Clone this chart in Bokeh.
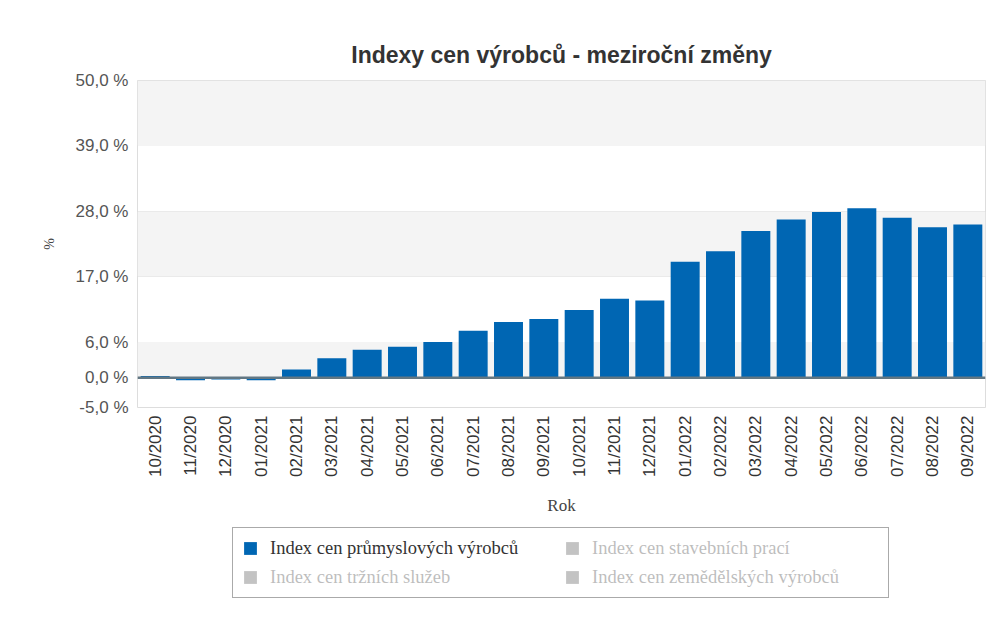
from bokeh.plotting import figure
from bokeh.layouts import column
from bokeh.models import (FixedTicker, CustomJSTickFormatter, BoxAnnotation, Span,
                          Legend, LegendItem, ColumnDataSource, Range1d)
from bokeh.embed import file_html
from bokeh.resources import INLINE
import math

months = ["10/2020", "11/2020", "12/2020", "01/2021", "02/2021", "03/2021", "04/2021",
          "05/2021", "06/2021", "07/2021", "08/2021", "09/2021", "10/2021", "11/2021",
          "12/2021", "01/2022", "02/2022", "03/2022", "04/2022", "05/2022", "06/2022",
          "07/2022", "08/2022", "09/2022"]
prumysl = [0.3, -0.4, -0.3, -0.4, 1.4, 3.3, 4.7, 5.2, 6.0, 7.9, 9.4, 9.9,
           11.4, 13.3, 13.0, 19.5, 21.3, 24.7, 26.6, 27.9, 28.5, 26.9, 25.3, 25.8]
y_ticks = [-5, 0, 6, 17, 28, 39, 50]
series_names = ["Index cen průmyslových výrobců", "Index cen stavebních prací",
                "Index cen tržních služeb", "Index cen zemědělských výrobců"]
series_colors = ["#0066b3", "#444444", "#444444", "#444444"]
series_active = [True, False, False, False]

p = figure(width=993, height=520, x_range=months, y_range=Range1d(-5, 50),
           output_backend="svg", toolbar_location=None,
           min_border_left=137, min_border_right=8, min_border_top=80, min_border_bottom=113)

p.title.text = "Indexy cen výrobců - meziroční změny"
p.title.align = "center"
p.title.text_font = "Liberation Sans"
p.title.text_font_size = "23px"
p.title.text_font_style = "bold"
p.title.text_color = "#333333"
p.title.standoff = 26

p.background_fill_color = "white"
p.outline_line_color = "#dddddd"
p.border_fill_color = "white"

bands = sorted(y_ticks)
for i in range(len(bands) - 1):
    if (len(bands) - 2 - i) % 2 == 0:
        p.add_layout(BoxAnnotation(bottom=bands[i], top=bands[i + 1],
                                   fill_color="#f4f4f4", fill_alpha=1.0, line_alpha=0,
                                   level="underlay"))

p.xgrid.grid_line_color = None
p.ygrid.ticker = FixedTicker(ticks=y_ticks)
p.ygrid.grid_line_color = "#cccccc"

src = ColumnDataSource(dict(m=months, v=prumysl))
p.vbar(x="m", top="v", bottom=0, width=0.82, source=src,
       fill_color=series_colors[0], line_color=None)

p.add_layout(Span(location=0, dimension="width", line_color="#627783", line_width=2.5))

p.yaxis.ticker = FixedTicker(ticks=y_ticks)
p.yaxis.formatter = CustomJSTickFormatter(code="return tick.toFixed(1).replace('.', ',') + ' %';")
p.yaxis.axis_line_color = None
p.yaxis.major_tick_line_color = None
p.yaxis.major_tick_out = 0
p.yaxis.minor_tick_line_color = None
p.yaxis.major_label_text_font = "Liberation Sans"
p.yaxis.major_label_text_font_size = "17px"
p.yaxis.major_label_text_color = "#555555"
p.yaxis.major_label_standoff = 9
p.yaxis.axis_label = "%"
p.yaxis.axis_label_text_font = "Liberation Serif"
p.yaxis.axis_label_text_font_size = "14px"
p.yaxis.axis_label_text_font_style = "normal"
p.yaxis.axis_label_text_color = "#444444"
p.yaxis.axis_label_standoff = 16

p.xaxis.axis_line_color = None
p.xaxis.major_tick_line_color = None
p.xaxis.major_tick_out = 0
p.xaxis.minor_tick_line_color = None
p.xaxis.major_label_orientation = math.pi / 2
p.xaxis.major_label_text_font = "Liberation Sans"
p.xaxis.major_label_text_font_size = "17px"
p.xaxis.major_label_text_color = "#333333"
p.xaxis.major_label_standoff = 8
p.xaxis.axis_label = "Rok"
p.xaxis.axis_label_text_font = "Liberation Serif"
p.xaxis.axis_label_text_font_size = "17px"
p.xaxis.axis_label_text_font_style = "normal"
p.xaxis.axis_label_text_color = "#444444"
p.xaxis.axis_label_standoff = 16

# legend figure (renderers share the data but lie outside its view)
lf = figure(width=993, height=96, x_range=months, y_range=Range1d(1000, 1001),
            output_backend="svg", toolbar_location=None,
            min_border=0, outline_line_color=None)
lf.axis.visible = False
lf.grid.visible = False
rends = []
for c, act in zip(series_colors, series_active):
    r = lf.vbar(x="m", top="v", bottom=0, width=0.8, source=src,
                fill_color=c, line_color=None)
    r.visible = act
    rends.append(r)
order = [0, 2, 1, 3]  # column-major fill -> rows: (0,1), (2,3)
items = [LegendItem(label=series_names[i], renderers=[rends[i]]) for i in order]
legend = Legend(items=items, location=(95, 18), ncols=2, click_policy="hide",
                label_text_font="Liberation Serif", label_text_font_size="18.5px",
                label_text_color="#333333", label_width=287, label_height=22,
                glyph_width=16, glyph_height=16,
                spacing=7, padding=9, margin=0, label_standoff=12,
                border_line_color="#555555", border_line_width=1,
                inactive_fill_color="white", inactive_fill_alpha=0.68,
                background_fill_color="white", background_fill_alpha=1)
lf.add_layout(legend, "center")

layout = column(p, lf, spacing=0)
open("out.html", "w").write(file_html(layout, INLINE))
